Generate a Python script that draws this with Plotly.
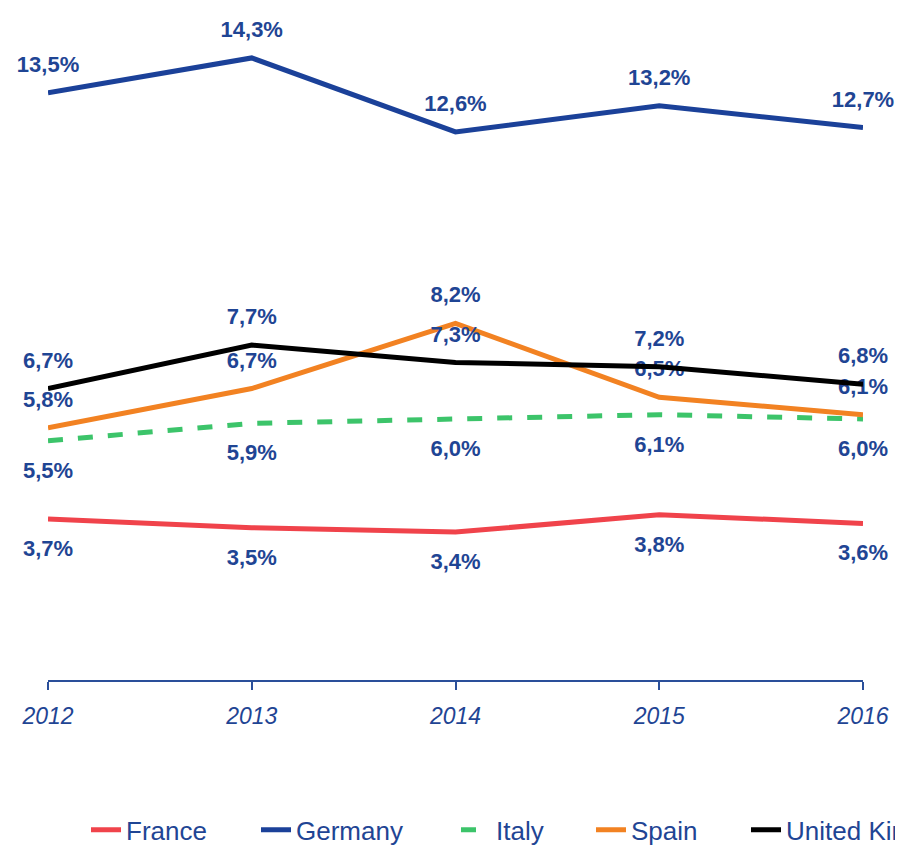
import plotly.graph_objects as go

years = [2012, 2013, 2014, 2015, 2016]
france = [3.7, 3.5, 3.4, 3.8, 3.6]
germany = [13.5, 14.3, 12.6, 13.2, 12.7]
italy = [5.5, 5.9, 6.0, 6.1, 6.0]
spain = [5.8, 6.7, 8.2, 6.5, 6.1]
uk = [6.7, 7.7, 7.3, 7.2, 6.8]

BLUE_TXT = "#1F4594"
FAM = "Liberation Sans Narrow, Arial Narrow, Liberation Sans, Arial, sans-serif"


def lab(vals):
    return [f"{v:.1f}%".replace(".", ",") for v in vals]


series = [
    ("France", france, "#F0434B", "solid", "bottom center", 125),
    ("Germany", germany, "#1B4199", "solid", "top center", 155),
    ("Italy", italy, "#3CC46A", "dash", "bottom center", 90),
    ("Spain", spain, "#F28222", "solid", "top center", 110),
    ("United Kingdom", uk, "#000000", "solid", "top center", 120),
]

fig = go.Figure()
for name, vals, color, dash, tpos, lw in series:
    msize = 23 if tpos.startswith("top") else 31
    fig.add_trace(go.Scatter(
        x=years, y=vals, name=name, mode="lines+markers+text",
        line=dict(color=color, width=5, dash=dash),
        marker=dict(size=msize, color="rgba(0,0,0,0)", line=dict(width=0)),
        text=lab(vals), textposition=tpos,
        textfont=dict(family=FAM, size=22, color=BLUE_TXT, weight="bold"),
        cliponaxis=False, legendwidth=lw,
    ))

W, H = 895, 842
PW = 815
fig.update_layout(
    width=W, height=H,
    margin=dict(l=40, r=W - 40 - PW, t=12, b=H - 12 - 660, autoexpand=False),
    paper_bgcolor="white", plot_bgcolor="white",
    showlegend=True,
    legend=dict(orientation="h", x=(903 - 40) / PW, xanchor="right",
                y=-0.227, yanchor="middle", borderwidth=0, itemsizing="constant",
                font=dict(family=FAM, size=26, color=BLUE_TXT)),
    xaxis=dict(range=[2012, 2016], tickvals=years, ticktext=[str(y) for y in years],
               showgrid=False, zeroline=False, showline=True, linecolor="#2A4F9A", linewidth=2,
               ticks="outside", ticklen=8, tickwidth=2, tickcolor="#2A4F9A",
               ticklabelstandoff=6,
               tickfont=dict(family=FAM, size=23, color=BLUE_TXT, style="italic")),
    yaxis=dict(range=[0, 660 / 43.5], visible=False, showgrid=False, zeroline=False),
)

fig.write_html("out.html")
